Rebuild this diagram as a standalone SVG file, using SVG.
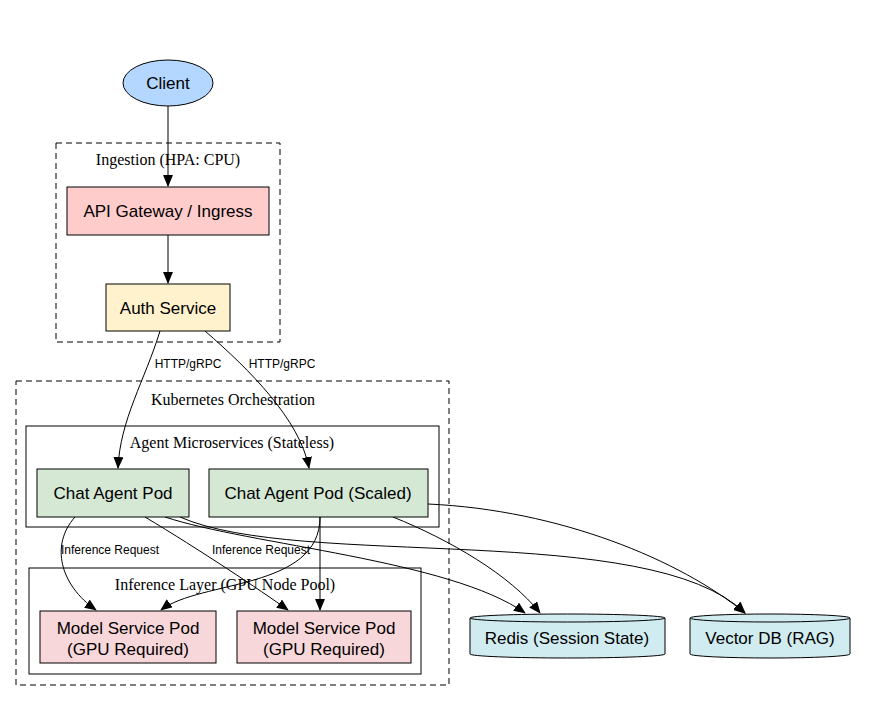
<svg xmlns="http://www.w3.org/2000/svg" width="876" height="701" viewBox="0 0 876 701">
<style>
.n{stroke:#000;stroke-width:1}
.t{font-family:"Liberation Sans",Arial,sans-serif;font-size:17px;text-anchor:middle}
.c{font-family:"Liberation Serif",serif;font-size:16px;text-anchor:middle}
.e{font-family:"Liberation Sans",Arial,sans-serif;font-size:12px;text-anchor:middle}
.cl{fill:none;stroke:#000}
.dash{stroke-dasharray:6,4}
#edges path{fill:none;stroke:#000;stroke-width:1;marker-end:url(#a)}
</style>
<defs><marker id="a" markerWidth="12" markerHeight="10" refX="11" refY="5" orient="auto" markerUnits="userSpaceOnUse"><path d="M0,0L12,5L0,10z"/></marker></defs>
<rect width="876" height="701" fill="#fff"/>
<g id="clusters">
<rect class="cl dash" x="56" y="143" width="224" height="199"/>
<text class="c" x="168" y="165">Ingestion (HPA: CPU)</text>
<rect class="cl dash" x="16" y="381" width="433" height="304"/>
<text class="c" x="233" y="405">Kubernetes Orchestration</text>
<rect class="cl" x="26" y="426" width="413" height="101"/>
<text class="c" x="232" y="448">Agent Microservices (Stateless)</text>
<rect class="cl" x="29" y="568" width="392" height="106"/>
<text class="c" x="225" y="590">Inference Layer (GPU Node Pool)</text>
</g>
<g id="edges">
<path d="M168,106L168,186"/>
<path d="M168,235L168,283"/>
<path d="M160,331C145,380 120,420 118,468"/>
<path d="M205,331C250,370 300,420 309,468"/>
<path d="M75,517C50,545 60,585 96,610"/>
<path d="M145,517C200,550 260,590 288,610"/>
<path d="M320,517C320,590 200,580 161,610"/>
<path d="M320,517L320,610"/>
<path d="M165,517C250,545 450,560 525,613"/>
<path d="M180,517C300,570 650,520 745,613"/>
<path d="M393,517C450,540 510,575 540,613"/>
<path d="M428,504C560,510 680,560 745,613"/>
</g>
<g id="edge-labels">
<text class="e" x="188" y="368">HTTP/gRPC</text>
<text class="e" x="282" y="368">HTTP/gRPC</text>
<text class="e" x="110" y="554">Inference Request</text>
<text class="e" x="261" y="554">Inference Request</text>
</g>
<g id="client"><ellipse class="n" cx="168" cy="83" rx="45" ry="23" fill="#b3d7ff"/><text class="t" x="168" y="89">Client</text></g>
<g id="api"><rect class="n" x="67" y="187" width="202" height="48" fill="#ffcccc"/><text class="t" x="168" y="217">API Gateway / Ingress</text></g>
<g id="auth"><rect class="n" x="106" y="284" width="124" height="47" fill="#fff2cc"/><text class="t" x="168" y="314">Auth Service</text></g>
<g id="chat1"><rect class="n" x="37" y="469" width="152" height="48" fill="#d5e8d4"/><text class="t" x="113" y="499">Chat Agent Pod</text></g>
<g id="chat2"><rect class="n" x="209" y="469" width="219" height="48" fill="#d5e8d4"/><text class="t" x="318" y="499">Chat Agent Pod (Scaled)</text></g>
<g id="model1"><rect class="n" x="40" y="611" width="176" height="52" fill="#f8d7da"/><text class="t" x="128" y="634">Model Service Pod</text><text class="t" x="128" y="655">(GPU Required)</text></g>
<g id="model2"><rect class="n" x="237" y="611" width="174" height="52" fill="#f8d7da"/><text class="t" x="324" y="634">Model Service Pod</text><text class="t" x="324" y="655">(GPU Required)</text></g>
<g id="redis"><path class="n" fill="#d1ecf1" d="M470,618L470,654A97.5,4 0 0 0 665,654L665,618A97.5,4 0 0 0 470,618z"/><path class="n" fill="none" d="M470,618A97.5,4 0 0 0 665,618"/><text class="t" x="567" y="644">Redis (Session State)</text></g>
<g id="vector"><path class="n" fill="#d1ecf1" d="M690,618L690,654A80,4 0 0 0 850,654L850,618A80,4 0 0 0 690,618z"/><path class="n" fill="none" d="M690,618A80,4 0 0 0 850,618"/><text class="t" x="770" y="644">Vector DB (RAG)</text></g>
</svg>
